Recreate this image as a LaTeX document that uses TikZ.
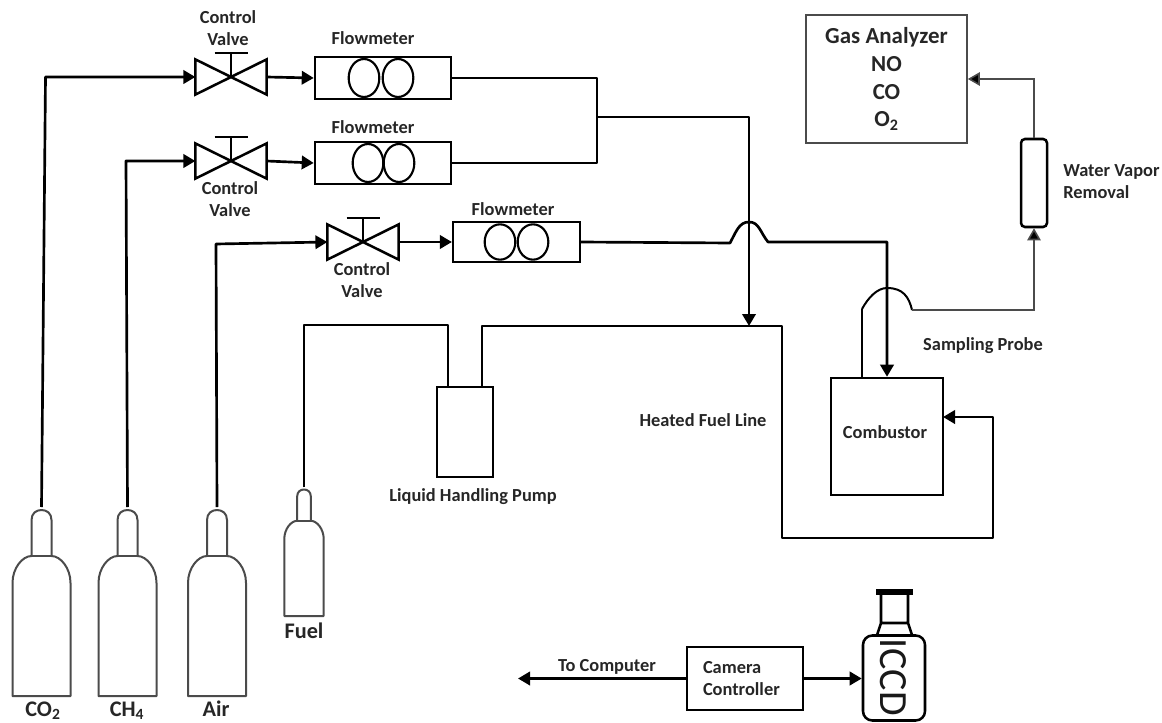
\documentclass[tikz,border=0pt]{standalone}
\usepackage{fontspec}
\setmainfont{Carlito}
\usetikzlibrary{arrows.meta, positioning, calc, shapes.geometric}
\definecolor{bottlegray}{RGB}{75,75,75}

\tikzset{
  bottle/.pic={
    \draw[bottleline] (-29,0) -- (-29,-113) .. controls (-29,-128) and (-19,-140) .. (-10,-140)
      -- (-10,-176) .. controls (-10,-183) and (-5,-186) .. (0,-186)
      .. controls (5,-186) and (10,-183) .. (10,-176) -- (10,-140)
      .. controls (19,-140) and (29,-128) .. (29,-113) -- (29,0) -- cycle;
    \draw[bottleline] (-10,-140) -- (10,-140);
    \coordinate (-top) at (0,-189);
  },
}

\begin{document}
\begin{tikzpicture}[
  x=0.75pt, y=-0.75pt,
  pipe/.style={line width=2pt, line join=round},
  arr/.style={pipe, -{Triangle[length=9pt, width=10pt]}},
  thinarr/.style={line width=1.2pt, draw=bottlegray, -{Triangle[length=9pt, width=10pt, fill=black]}},
  bottleline/.style={line width=1.5pt, draw=bottlegray, line join=round},
  valve/.style={minimum width=53pt, minimum height=26pt, inner sep=0pt},
  meter/.style={rectangle, draw, line width=1.9pt, minimum width=102pt, minimum height=31.5pt, inner sep=0pt},
  rotor/.style={ellipse, draw, line width=1.6pt, minimum width=23pt, minimum height=28.5pt, inner sep=0pt},
  lbl/.style={font=\bfseries\fontsize{13.8}{16.5}\selectfont, align=center, inner sep=0pt, text=black!85},
  gaslbl/.style={font=\bfseries\fontsize{16.7}{18}\selectfont, inner sep=0pt, text=black!85, anchor=base},
  box/.style={rectangle, draw, line width=1.9pt, inner sep=0pt},
]
\useasboundingbox (0,0) rectangle (1162,723);

% bottles
\pic (co2) at (41.5,696) {bottle};
\pic (ch4) at (127.5,696) {bottle};
\pic (air) at (217,696) {bottle};
\pic[scale=0.68] (fuel) at (304,616) {bottle};
\node[gaslbl] (co2lbl) at (43,716) {CO\textsubscript{2}};
\node[gaslbl] (ch4lbl) at (127,716) {CH\textsubscript{4}};
\node[gaslbl] (airlbl) at (216,716) {Air};
\node[gaslbl] (fuellbl) at (304,638) {Fuel};

% valves and flowmeters
\node[valve] (valveA) at (231,77) {};
\node[valve] (valveB) at (231,161) {};
\node[valve] (valveC) at (363,242) {};
\node[lbl] (valveAlbl) at (228,28) {Control\\Valve};
\node[lbl] (valveBlbl) at (230,199.5) {Control\\Valve};
\node[lbl] (valveClbl) at (362,280) {Control\\Valve};
\foreach \v in {valveA, valveB, valveC} {
  \draw[line width=1.9pt, line join=miter] (\v.north west) -- (\v.south east) -- (\v.north east) -- (\v.south west) -- cycle;
  \draw[line width=1.1pt] (\v.center) -- +(0,-24) +(-16.5,-24) -- +(16.5,-24);
}

\node[meter] (fmA) at (383,78) {};
\node[meter] (fmB) at (383,163) {};
\node[meter, minimum width=95pt, minimum height=30pt] (fmC) at (516.5,242) {};
\node[rotor] (rotorA1) at (364,78) {};
\node[rotor] (rotorA2) at (398,78) {};
\node[rotor] (rotorB1) at (368,163) {};
\node[rotor] (rotorB2) at (399,163) {};
\node[rotor, minimum height=26.5pt] (rotorC1) at (500,242) {};
\node[rotor, minimum height=26.5pt] (rotorC2) at (533,242) {};
\node[lbl] (fmAlbl) at (373,38) {Flowmeter};
\node[lbl] (fmBlbl) at (373,127) {Flowmeter};
\node[lbl] (fmClbl) at (513,209) {Flowmeter};

% other equipment
\node[box, line width=1.2pt, draw=bottlegray, minimum width=120.75pt, minimum height=96pt, align=center,
      font=\bfseries\fontsize{17.2}{20.7}\selectfont, text=black!85] (analyzer) at (886.5,79) {Gas Analyzer\\NO\\CO\\O\textsubscript{2}};
\node[box, rounded corners=3pt, minimum width=19.5pt, minimum height=66pt] (water) at (1034,183) {};
\node[lbl, align=left, anchor=west] (waterlbl) at (1063,182) {Water Vapor\\Removal};
\node[box, minimum width=84pt, minimum height=87.75pt] (combustor) at (887,436.5) {};
\node[lbl] (combustorlbl) at (885,432) {Combustor};
\node[box, minimum width=42pt, minimum height=67.5pt] (pump) at (465,432) {};
\node[lbl] (pumplbl) at (473,497) {Liquid Handling Pump};
\node[lbl] (probelbl) at (983,346) {Sampling Probe};
\node[lbl] (heatedlbl) at (703,420) {Heated Fuel Line};
\node[box, line width=1.2pt, minimum height=47.25pt, text width=63pt, inner xsep=12pt, align=left,
      font=\bfseries\fontsize{13.8}{16}\selectfont, text=black!85] (camera) at (745,678.5) {Camera\\Controller};
\node[box, rounded corners=7pt, minimum width=46.5pt, minimum height=63.75pt] (iccd) at (894,678) {};
\node[rotate=-90, inner sep=0pt, font=\fontsize{30}{30}\selectfont, text=black!90] (iccdlbl) at (893,677) {ICCD};
\node[lbl] (complbl) at (607,667) {To Computer};

% camera neck
\draw[line width=1.9pt, line join=round] (877,635) -- (881,623) -- (881,593) (908,593) -- (908,623) -- (912,635) (881,623) -- (908,623);
\draw[line width=4pt] (876,592) -- (913,592);

% named points on the lines
\coordinate (mix) at (597,117);
\coordinate (join) at (749,326);
\coordinate (pumpin) at (448,387);
\coordinate (pumpout) at (482,387);
\coordinate (combin) at (943,417);
\coordinate (probe) at (862,378);
\coordinate (computer) at (518,678.5);

% gas lines
\draw[arr] (co2-top) -- (45.5,77) -- (valveA.west);
\draw[arr] (ch4-top) -- (126,161) -- (valveB.west);
\draw[arr] (air-top) -- (216,244) -- (valveC.west);
\draw[arr] (valveA.east) -- (fmA.west);
\draw[arr] (valveB.east) -- (fmB.west);
\draw[arr] (valveC.east) -- (fmC.west);
\draw[pipe] (fmA.east) -| (mix) |- (fmB.east);
\draw[arr] (mix) -| (join);
\draw[arr] (fmC.east) -- (730,243) .. controls (736,232) and (739,222) .. (749,222)
  .. controls (759,222) and (760,232) .. (768,242) -| (combustor.north);

% fuel line
\draw[pipe] (fuel-top) |- (448,325) -- (pumpin);
\draw[arr] (pumpout) |- (782,326) |- (993,538) |- (combin);

% sampling line
\draw[pipe] (probe) -- (862,309);
\draw[line width=1.5pt] (862,309) .. controls (868,298) and (877,288) .. (887,288)
  .. controls (903,288) and (909,297) .. (912,310);
\draw[thinarr] (912,310) -| (water.south);
\draw[thinarr] (water.north) |- (analyzer.east);

% camera lines
\draw[arr] (camera.west |- computer) -- (computer);
\draw[arr] (camera.east |- computer) -- (iccd.west |- computer);
\end{tikzpicture}
\end{document}
